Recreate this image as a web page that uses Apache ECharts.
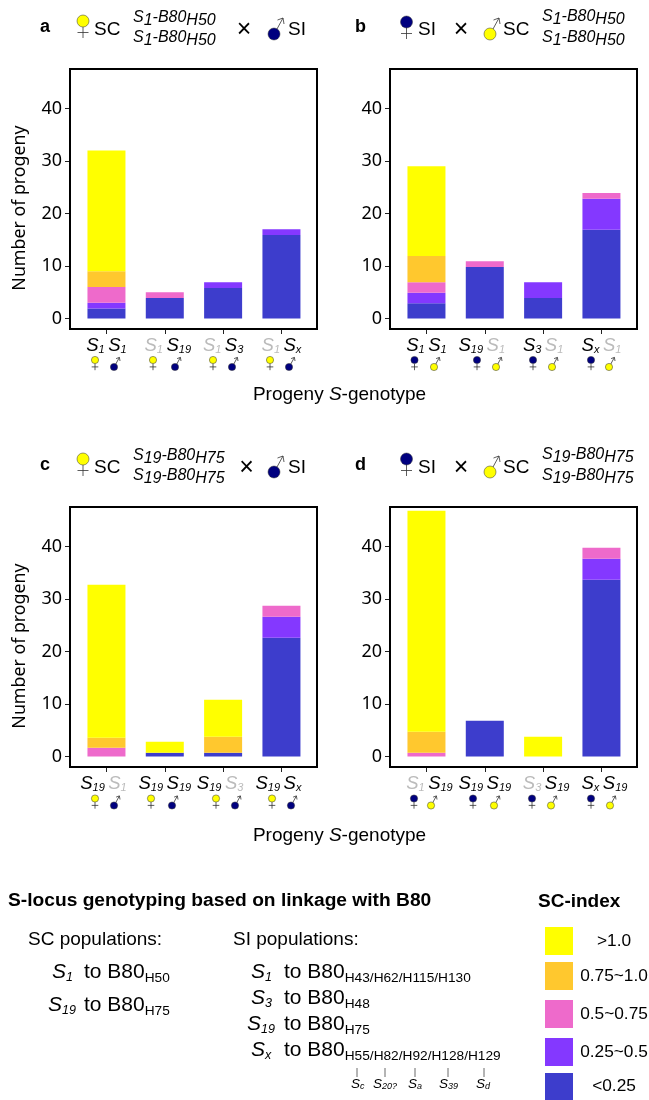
<!DOCTYPE html>
<html><head><meta charset="utf-8">
<style>html,body{margin:0;padding:0;background:#fff}#c{width:649px;height:1100px}</style>
<script src="https://cdn.jsdelivr.net/npm/echarts@6/dist/echarts.min.js"></script>
</head><body><div id="c"></div>
<script>
// ---- data ----
var classNames = ['<0.25', '0.25~0.5', '0.5~0.75', '0.75~1.0', '>1.0'];
var classColors = ['#3D3DCC', '#8438FF', '#EE6ACB', '#FFC82E', '#FFFF00'];
var tickLabels = [0, 10, 20, 30, 40];

var categoriesA = ['1 1', '~1 19', '~1 3', '~1 x'];
var categoriesB = ['1 1', '19 ~1', '3 ~1', 'x ~1'];
var categoriesC = ['19 ~1', '19 19', '19 ~3', '19 x'];
var categoriesD = ['~1 19', '19 19', '~3 19', 'x 19'];

var aBelow25 = [1.9, 3.9, 5.8, 15.9];
var a25to50 = [1.1, 0, 1.1, 1.1];
var a50to75 = [3, 1.1, 0, 0];
var a75to100 = [3, 0, 0, 0];
var aAbove100 = [23, 0, 0, 0];

var bBelow25 = [2.9, 9.8, 3.9, 16.9];
var b25to50 = [2, 0, 3, 5.9];
var b50to75 = [2, 1.1, 0, 1.1];
var b75to100 = [5, 0, 0, 0];
var bAbove100 = [17.1, 0, 0, 0];

var cBelow25 = [0, 0.7, 0.7, 22.6];
var c25to50 = [0, 0, 0, 4];
var c50to75 = [1.65, 0, 0, 2.1];
var c75to100 = [1.9, 0, 3.05, 0];
var cAbove100 = [29.15, 2.1, 7.05, 0];

var dBelow25 = [0, 6.8, 0, 33.65];
var d25to50 = [0, 0, 0, 4];
var d50to75 = [0.7, 0, 0, 2.1];
var d75to100 = [4, 0, 0, 0];
var dAbove100 = [42.1, 0, 3.75, 0];

var panelCategories = [categoriesA, categoriesB, categoriesC, categoriesD];
var panelValues = [
  [aBelow25, a25to50, a50to75, a75to100, aAbove100],
  [bBelow25, b25to50, b50to75, b75to100, bAbove100],
  [cBelow25, c25to50, c50to75, c75to100, cAbove100],
  [dBelow25, d25to50, d50to75, d75to100, dAbove100]
];

// ---- layout ----
var ARIAL = '"Liberation Sans", Arial, sans-serif';
var NOTO = '"Noto Sans", "Open Sans", sans-serif';
var NAVY = '#00007F', YEL = '#FFFF00', LINE = '#333';
var frames = [[70, 69], [390, 69], [70, 507], [390, 507]];
var FW = 247, FH = 260, INSET = 7.3, INNERW = 233.3;

function subRich(size, subSize, d, color) {
  var c = color || '#000';
  return {
    i: {fontFamily: ARIAL, fontStyle: 'italic', fontSize: size, lineHeight: size + 2, padding: [0, 0, d, 0], color: c},
    b: {fontFamily: ARIAL, fontStyle: 'italic', fontSize: subSize, lineHeight: size + 2, padding: [d, 0, 0, 0], color: c},
    n: {fontFamily: ARIAL, fontSize: size, lineHeight: size + 2, padding: [0, 0, d, 0], color: c},
    u: {fontFamily: ARIAL, fontSize: subSize, lineHeight: size + 2, padding: [d, 0, 0, 0], color: c}
  };
}

function catLabel(v) {
  var p = v.split(' ');
  var part = function (s) {
    var g = s.charAt(0) === '~';
    var t = g ? s.slice(1) : s;
    return (g ? '{gi|S}{gb|' : '{i|S}{b|') + t + '}';
  };
  var len = function (s) { return s.replace('~', '').length; };
  var d = len(p[0]) - len(p[1]);
  var left = d < 0 ? '{sp| }' : '';
  var right = d > 0 ? '{sp| }' : '';
  return left + part(p[0]) + '{gap| }' + part(p[1]) + right;
}
var catRich = (function () {
  var base = subRich(18.5, 11, 4);
  var grey = subRich(18.5, 11, 4, '#BBBBBB');
  return {
    i: base.i, b: base.b, gi: grey.i, gb: grey.b,
    sp: {width: 6, fontSize: 6, lineHeight: 20},
    gap: {width: 3.5, fontSize: 6, lineHeight: 20}
  };
})();

var grids = [], xAxes = [], yAxes = [], series = [];
frames.forEach(function (f, k) {
  grids.push({left: f[0] + INSET, top: f[1], width: INNERW, height: FH});
  xAxes.push({
    type: 'category', gridIndex: k, data: panelCategories[k], position: 'bottom',
    axisLine: {show: false, onZero: false},
    axisTick: {show: false},
    axisLabel: {interval: 0, margin: 9, formatter: catLabel, rich: catRich, hideOverlap: false}
  });
  yAxes.push({
    type: 'value', gridIndex: k, min: -2, max: 47.5, offset: INSET,
    name: k % 2 === 0 ? 'Number of progeny' : '',
    nameLocation: 'middle', nameGap: 41,
    nameTextStyle: {fontFamily: NOTO, fontSize: 17.8, color: '#000', padding: [0, 18, 0, 0]},
    axisLine: {show: false}, splitLine: {show: false},
    axisTick: {show: false},
    axisLabel: {margin: 8, fontFamily: NOTO, fontSize: 18, color: '#000', customValues: tickLabels}
  });
  classNames.forEach(function (name, c) {
    series.push({
      type: 'bar', name: name, xAxisIndex: k, yAxisIndex: k, stack: 'p' + k, barWidth: 38,
      data: panelValues[k][c], itemStyle: {color: classColors[c]}, silent: true
    });
  });
});
// frame grids (border only)
frames.forEach(function (f, k) {
  var idx = grids.length;
  grids.push({left: f[0], top: f[1], width: FW, height: FH, show: true, borderColor: '#000', borderWidth: 2, backgroundColor: 'transparent', z: 1});
  xAxes.push({type: 'value', gridIndex: idx, show: false});
  yAxes.push({type: 'value', gridIndex: idx, show: false});
});

// ---- graphics ----
var g = [];
function seg(x1, y1, x2, y2, w, col) {
  g.push({type: 'line', silent: true, z: 20, shape: {x1: x1, y1: y1, x2: x2, y2: y2}, style: {stroke: col || LINE, lineWidth: w || 0.8}});
}
function circ(x, y, r, fill) {
  g.push({type: 'circle', silent: true, z: 21, shape: {cx: x, cy: y, r: r}, style: {fill: fill, stroke: '#333', lineWidth: 0.5}});
}
function female(x, y, k, fill) {
  seg(x, y + 6 * k, x, y + 17 * k);
  seg(x - 5.5 * k, y + 11.5 * k, x + 5.5 * k, y + 11.5 * k);
  circ(x, y, 6 * k, fill);
}
function male(x, y, k, fill) {
  seg(x + 3 * k, y - 5 * k, x + 9 * k, y - 16 * k);
  seg(x + 9 * k, y - 16 * k, x + 3.5 * k, y - 14 * k);
  seg(x + 9 * k, y - 16 * k, x + 10 * k, y - 10 * k);
  circ(x, y, 6 * k, fill);
}
function text(x, y, str, opts) {
  opts = opts || {};
  g.push({
    type: 'text', silent: true, z: 22, x: x, y: y,
    style: {
      text: str, fill: opts.color || '#000',
      fontFamily: opts.family || ARIAL, fontSize: opts.size || 19,
      fontWeight: opts.weight || 'normal', fontStyle: opts.style || 'normal',
      align: opts.align || 'left', verticalAlign: 'middle', rich: opts.rich
    }
  });
}

// panel headers
var hdr = subRich(16, 16, 3);
function genoLines(x, y1, y2, sName, hName) {
  var s = '{i|S}{b|' + sName + '}{i|-B80}{b|' + hName + '}';
  text(x, y1, s, {rich: hdr});
  text(x, y2, s, {rich: hdr});
}
[[0, '1', 'H50'], [438, '19', 'H75']].forEach(function (r, n) {
  var dy = r[0];
  text(40, 27 + dy, n ? 'c' : 'a', {weight: 'bold', size: 18});
  female(83, 21 + dy, 1, YEL);
  text(94, 30 + dy, 'SC');
  genoLines(133, 19 + dy, 39 + dy, r[1], r[2]);
  text(n ? 246.5 : 244, 30 + dy, '\u00D7', {size: 25, align: 'center'});
  male(274, 34 + dy, 1, NAVY);
  text(288, 30 + dy, 'SI');

  text(355, 27 + dy, n ? 'd' : 'b', {weight: 'bold', size: 18});
  female(406.5, 22 + dy - (n ? 1 : 0), 1, NAVY);
  text(418, 30 + dy, 'SI');
  text(461, 30 + dy, '\u00D7', {size: 25, align: 'center'});
  male(490, 34 + dy, 1, YEL);
  text(503, 30 + dy, 'SC');
  genoLines(542, 18 + dy, 39 + dy, r[1], r[2]);
});

// small sex symbols below the x labels
var femaleX = [[95, 153, 213, 270], [414.5, 477, 533, 591], [95, 151, 216, 272], [414, 473, 532, 591]];
var maleX = [[114, 175, 232, 289], [434, 496, 552, 609], [114, 172, 235, 291], [431, 494, 551, 610]];
femaleX.forEach(function (xs, k) {
  var dy = k < 2 ? 0 : 438.5;
  var fc = k % 2 === 0 ? YEL : NAVY, mc = k % 2 === 0 ? NAVY : YEL;
  xs.forEach(function (x) { female(x, 360 + dy, 0.6, fc); });
  maleX[k].forEach(function (x) { male(x, 367 + dy, 0.6, mc); });
});

// x-axis titles
var xt = subRich(19, 19, 0);
[395, 836].forEach(function (y) {
  text(339.5, y, '{n|Progeny }{i|S}{n|-genotype}', {align: 'center', rich: xt});
});

// bottom notes
text(8, 901, 'S-locus genotyping based on linkage with B80', {weight: 'bold', size: 19.2});
text(28, 940, 'SC populations:');
text(233, 940, 'SI populations:');
var gt = {
  i: {fontFamily: ARIAL, fontStyle: 'italic', fontSize: 21, lineHeight: 23, padding: [0, 0, 6, 0]},
  b: {fontFamily: ARIAL, fontStyle: 'italic', fontSize: 12.5, lineHeight: 23, padding: [6, 0, 0, 0]},
  n: {fontFamily: ARIAL, fontSize: 21, lineHeight: 23, padding: [0, 0, 6, 0]},
  u: {fontFamily: ARIAL, fontSize: 13.7, lineHeight: 23, padding: [6, 0, 0, 0]}
};
var notes = [
  [52, 84, 975, '1', 'H50'], [48, 84, 1008, '19', 'H75'],
  [251, 284, 975, '1', 'H43/H62/H115/H130'], [251, 284, 1001, '3', 'H48'],
  [247, 284, 1027, '19', 'H75'], [251, 284, 1053, 'x', 'H55/H82/H92/H128/H129']
];
notes.forEach(function (r) {
  text(r[0], r[2], '{i|S}{b|' + r[3] + '}', {rich: gt});
  text(r[1], r[2], '{n|to B80}{u|' + r[4] + '}', {rich: gt});
});
var tinyX = [357, 385, 415, 448, 484];
var tinyLabels = [['c', 351], ['20?', 373], ['a', 408], ['39', 439], ['d', 476]];
var tiny = subRich(13.5, 9, 2);
tinyX.forEach(function (x, n) {
  seg(x, 1068, x, 1077, 0.8, '#444');
  text(tinyLabels[n][1], 1085, '{i|S}{b|' + tinyLabels[n][0] + '}', {rich: tiny});
});

// SC-index key
text(538, 902, 'SC-index', {weight: 'bold', size: 19});
var keyTop = [1073, 1038, 1000, 962, 927];
var keyH = [27, 28, 28, 28, 28];
var keyLabelY = [1086, 1052, 1014, 976, 941];
classNames.forEach(function (name, c) {
  g.push({type: 'rect', silent: true, z: 20, shape: {x: 545, y: keyTop[c], width: 28, height: keyH[c]}, style: {fill: classColors[c]}});
  text(614, keyLabelY[c], name, {size: 17.3, align: 'center'});
});

var chart = echarts.init(document.getElementById('c'), null, {renderer: 'canvas'});
chart.setOption({
  animation: false, backgroundColor: '#fff',
  grid: grids, xAxis: xAxes, yAxis: yAxes, series: series
});
// tick marks placed from the library's own scales
frames.forEach(function (f, k) {
  var bottom = f[1] + FH;
  tickLabels.forEach(function (v) {
    var y = Math.round(chart.convertToPixel({yAxisIndex: k}, v)) + 0.5;
    seg(f[0] - 5, y, f[0] - 1, y, 1, '#222');
  });
  panelCategories[k].forEach(function (c) {
    var x = Math.round(chart.convertToPixel({xAxisIndex: k}, c)) + 0.5;
    seg(x, bottom + 1, x, bottom + 5, 1, '#222');
  });
});
chart.setOption({graphic: {elements: g}});
</script></body></html>
